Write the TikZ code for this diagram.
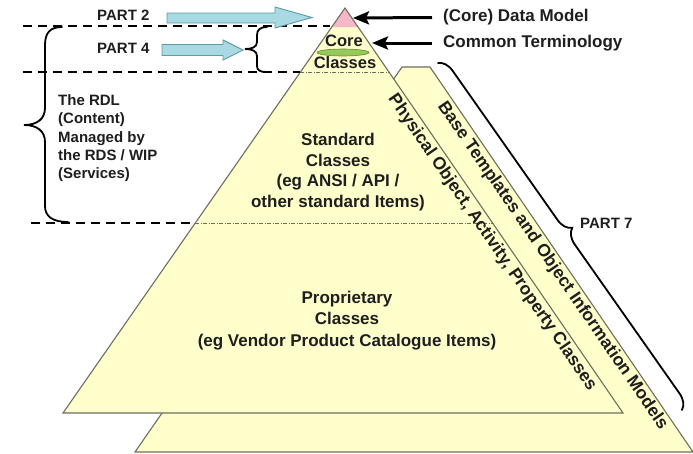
\documentclass[tikz,border=0pt]{standalone}
\usepackage{fontspec}
\setmainfont{Liberation Sans}
\usetikzlibrary{arrows.meta,decorations.pathreplacing,calc}
\definecolor{pyr}{HTML}{FFFFCC}
\definecolor{pyredge}{HTML}{6E6E5E}
\definecolor{pinkc}{HTML}{F4B8C8}
\definecolor{greenc}{HTML}{96C85A}
\definecolor{greenedge}{HTML}{5E8E2E}
\definecolor{arrfill}{HTML}{A9D9E2}
\definecolor{arredge}{HTML}{5F9AA5}
\definecolor{txt}{HTML}{1E1E1E}
\tikzset{
 pyramid/.style={fill=pyr, draw=pyredge, line width=1.1pt, line join=miter},
 sepline/.style={black, line width=2.3pt, dash pattern=on 9pt off 6pt},
 dotline/.style={pyredge, line width=0.8pt, dash pattern=on 4pt off 1.5pt on 1pt off 1.5pt},
 bigtxt/.style={font=\bfseries\fontsize{17}{21}\selectfont, text=txt, inner sep=0pt, align=center},
 parttxt/.style={font=\bfseries\fontsize{15}{18.25}\selectfont, text=txt, inner sep=0pt},
 bluearrow/.style={fill=arrfill, draw=arredge, line width=0.9pt, line join=miter},
 blackarrow/.style={black, line width=3pt, -{Stealth[length=16pt,width=13pt,inset=3pt]}},
 bracestyle/.style={black, line width=1.8pt, line cap=round},
}
\begin{document}
\begin{tikzpicture}[x=1pt,y=-1pt]
\useasboundingbox (0,0) rectangle (693,453);
% back pyramid
\coordinate (bl) at (135,452);
\coordinate (br) at (693,452);
\coordinate (btl) at (402,67);
\coordinate (btr) at (430,67);
\draw[pyramid] (bl) -- (btl) -- (btr) -- (br) -- cycle;
% front pyramid
\coordinate (apex) at (345,8);
\coordinate (fl) at (63,413);
\coordinate (fr) at (623,413);
\fill[pyr] (apex) -- (fl) -- (fr) -- cycle;
\fill[pinkc] (apex) -- (331.8,27) -- (358,27) -- cycle;
\draw[dotline] (300.4,72) -- (388.9,72);
\draw[dotline] (195.3,223) -- (492.6,223);
\draw[pyramid, fill=none] (apex) -- (fl) -- (fr) -- cycle;
\draw[fill=greenc, draw=greenedge, line width=0.6pt] (343,52.5) ellipse [x radius=26, y radius=3.5];
% separator dashed lines
\draw[sepline] (23,26) -- (330,26);
\draw[sepline] (23,72) -- (300,72);
\draw[sepline] (31,223) -- (195,223);
% braces
\draw[bracestyle] (62,27) .. controls (50,27) and (45,33) .. (45,45) -- (45,108) .. controls (45,119) and (37,125) .. (24,125) .. controls (37,125) and (45,131) .. (45,142) -- (45,206) .. controls (45,216) and (52,222) .. (68,222);
\draw[bracestyle] (267,27) .. controls (260,27) and (257,30) .. (257,35) -- (257,42) .. controls (257,47) and (252,49) .. (245,49) .. controls (252,49) and (257,51) .. (257,56) -- (257,66) .. controls (257,70) and (260,72) .. (266,72);
\draw[bracestyle, decorate, decoration={brace, amplitude=15pt}] (438,63) -- (682,410);
% blue arrows
\draw[bluearrow] (167,13) -- (275,13) -- (275,7) -- (312,17.5) -- (275,28) -- (275,23) -- (167,23) -- cycle;
\draw[bluearrow] (162,44.5) -- (223,44.5) -- (223,40) -- (243,50) -- (223,60) -- (223,55.5) -- (162,55.5) -- cycle;
% labels
\node[parttxt, anchor=west] (p2) at (97,15) {PART 2};
\node[parttxt, anchor=west] (p4) at (97,48) {PART 4};
\node[parttxt, anchor=west] (p7) at (580,223) {PART 7};
\node[parttxt, align=left, anchor=north west] (rdl) at (58,94.5) {The RDL\\(Content)\\Managed by\\the RDS / WIP\\(Services)};
\node[bigtxt, font=\bfseries\fontsize{16.5}{20}\selectfont] (core) at (344,41) {Core};
\node[bigtxt, font=\bfseries\fontsize{16.5}{20}\selectfont] (classes) at (345,62.5) {Classes};
\node[bigtxt, font=\bfseries\fontsize{17}{20.7}\selectfont] (std) at (338,172) {Standard\\Classes\\(eg ANSI / API /\\other standard Items)};
\node[bigtxt, font=\bfseries\fontsize{17}{21.5}\selectfont] (prop) at (347,320.5) {Proprietary\\Classes\\(eg Vendor Product Catalogue Items)};
\node[bigtxt, font=\bfseries\fontsize{17.5}{21}\selectfont, rotate=-55.5, anchor=north, inner sep=3pt] (phys) at ($(apex)!0.563!(fr)$) {Physical Object, Activity, Property Classes};
\node[bigtxt, font=\bfseries\fontsize{17.5}{21}\selectfont, rotate=-55.5, anchor=north, inner sep=2.5pt] (base) at ($(btr)!0.5!(br)$) {Base Templates and Object Information Models};
% right-hand labels with arrows
\coordinate (dmtip) at (353,18);
\coordinate (cttip) at (372,43);
\node[bigtxt, anchor=west] (dm) at (443,17.5) {(Core) Data Model};
\node[bigtxt, anchor=west] (ct) at (443,43) {Common Terminology};
\draw[blackarrow] ([xshift=-11pt]dm.west) -- (dmtip);
\draw[blackarrow] ([xshift=-11pt]ct.west) -- (cttip);
\end{tikzpicture}
\end{document}
